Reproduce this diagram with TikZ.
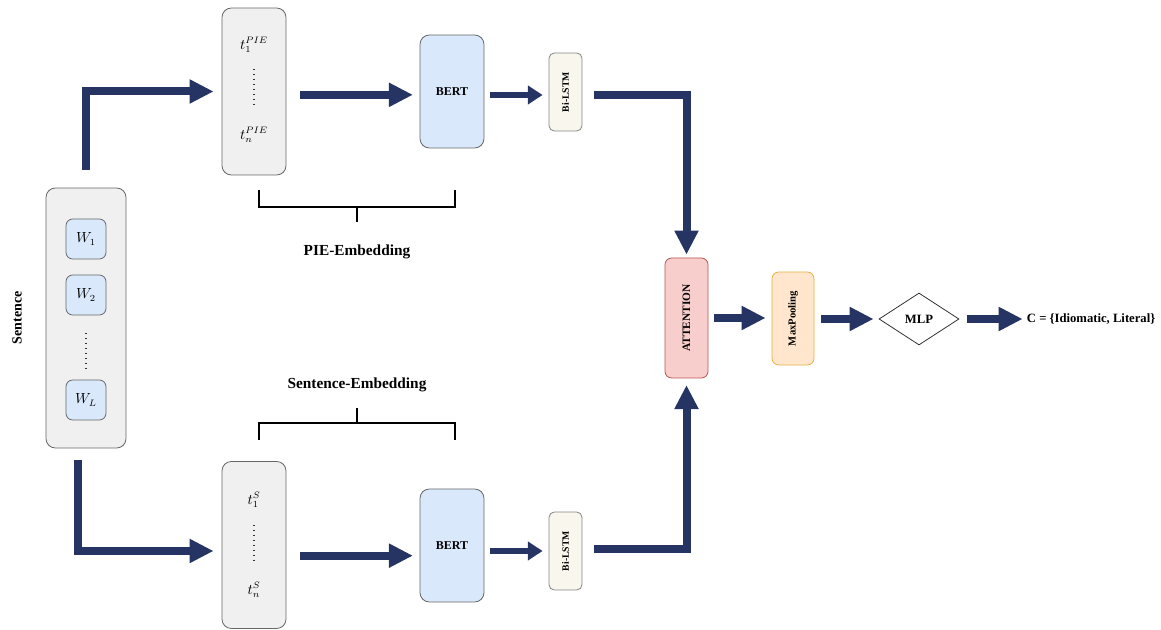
\documentclass[tikz,border=0pt]{standalone}
\usepackage{fontspec}
\setmainfont{Liberation Serif}
\usetikzlibrary{arrows.meta,shapes.geometric}
\definecolor{navy}{RGB}{38,52,100}
\definecolor{boxgray}{HTML}{F0F0F0}
\definecolor{edgegray}{HTML}{666666}
\definecolor{lblue}{HTML}{DAE8FC}
\definecolor{lstmfill}{HTML}{F9F7ED}
\definecolor{attfill}{HTML}{F8CECC}
\definecolor{attedge}{HTML}{B85450}
\definecolor{mpfill}{HTML}{FFE6CC}
\definecolor{mpedge}{HTML}{E6B045}
\tikzset{
  graybox/.style={draw=edgegray, fill=boxgray, rounded corners=7pt, line width=0.6pt, inner sep=0pt},
  wbox/.style={draw=edgegray, fill=lblue, rounded corners=5pt, line width=0.6pt, minimum width=30pt, minimum height=30pt, inner sep=0pt, font=\fontsize{10.5}{12}\selectfont},
  bertbox/.style={draw=edgegray, fill=lblue, rounded corners=7pt, line width=0.6pt, minimum width=48pt, minimum height=84.75pt, inner sep=0pt, font=\bfseries\fontsize{9}{10}\selectfont},
  lstmbox/.style={draw=edgegray!80, fill=lstmfill, rounded corners=4pt, line width=0.6pt, minimum width=24.75pt, minimum height=58.5pt, inner sep=0pt},
  tok/.style={font=\fontsize{10.5}{12}\selectfont, inner sep=0pt},
  bigarrow/.style={draw=navy, line width=6pt, -{Triangle[length=18pt,width=17pt]}},
  smallarrow/.style={draw=navy, line width=4.5pt, -{Triangle[length=11pt,width=13.5pt]}},
  bracket/.style={draw=black, line width=1.2pt},
  lbl/.style={font=\bfseries\fontsize{11.5}{13}\selectfont, inner sep=1pt},
  dots/.style={line width=0.9pt, draw=black!80, dash pattern=on 0.9pt off 2.8pt}
}
\begin{document}
\begin{tikzpicture}[x=0.75pt,y=-0.75pt]
\useasboundingbox (0,0) rectangle (1161,630);
% Sentence column
\node[graybox, minimum width=60pt, minimum height=195pt] (s) at (86,318) {};
\node[wbox] (w1) at (86,239) {$W_1$};
\node[wbox] (w2) at (86,295) {$W_2$};
\node[wbox] (wl) at (86,400) {$W_L$};
\draw[dots] (86,333) -- (86,368);
\node[font=\bfseries\fontsize{10.5}{12}\selectfont, rotate=90] (slabel) at (17,318) {Sentence};
% token boxes
\node[graybox, minimum width=48pt, minimum height=125.25pt] (t1) at (254,91.5) {};
\node[tok] (t1a) at (254,45) {$t_1^{PIE}$};
\node[tok] (t1b) at (254,135) {$t_n^{PIE}$};
\draw[dots] (254,69) -- (254,108);
\node[graybox, minimum width=48pt, minimum height=125.25pt] (t2) at (254,545) {};
\node[tok] (t2a) at (254,500) {$t_1^{S}$};
\node[tok] (t2b) at (254,590) {$t_n^{S}$};
\draw[dots] (254,525) -- (254,564);
% BERT
\node[bertbox] (b1) at (452,91.5) {BERT};
\node[bertbox] (b2) at (452,545.5) {BERT};
% BiLSTM
\node[lstmbox] (l1) at (565.5,92) {};
\node[rotate=90, font=\bfseries\fontsize{7.3}{9}\selectfont] at (l1.center) {Bi-LSTM};
\node[lstmbox] (l2) at (565.5,551) {};
\node[rotate=90, font=\bfseries\fontsize{7.3}{9}\selectfont] at (l2.center) {Bi-LSTM};
% Attention, MaxPooling, MLP, output
\node[draw=attedge, fill=attfill, rounded corners=5pt, line width=0.6pt, minimum width=32.25pt, minimum height=90pt, inner sep=0pt] (att) at (686.5,318) {};
\node[rotate=90, font=\bfseries\fontsize{8.5}{10}\selectfont] at (att.center) {ATTENTION};
\node[draw=mpedge, fill=mpfill, rounded corners=5pt, line width=0.6pt, minimum width=31.5pt, minimum height=69.75pt, inner sep=0pt] (mp) at (793,318.5) {};
\node[rotate=90, font=\bfseries\fontsize{8}{10}\selectfont] at (mp.center) {MaxPooling};
\node[diamond, draw=black!80, line width=0.6pt, minimum width=60pt, minimum height=39pt, inner sep=0pt, font=\bfseries\fontsize{9.5}{11}\selectfont] (mlp) at (919,319) {MLP};
\node[anchor=west, inner sep=2pt, font=\bfseries\fontsize{9.5}{11}\selectfont] (out) at (1024,319) {C = \{Idiomatic, Literal\}};
% brackets
\draw[bracket] (259,190) -- (259,207) -- (455,207) -- (455,190);
\draw[bracket] (357,207) -- (357,222);
\node[lbl] (pie) at (357,252) {PIE-Embedding};
\draw[bracket] (259,440) -- (259,423) -- (455,423) -- (455,440);
\draw[bracket] (357,423) -- (357,408);
\node[lbl] (sen) at (357,385) {Sentence-Embedding};
% arrows
\draw[bigarrow] ([yshift=13.5pt]s.north) |- ([xshift=-6pt]t1.west);
\draw[bigarrow] ([xshift=-6pt,yshift=-9pt]s.south) |- ([xshift=-6pt,yshift=-4.5pt]t2.west);
\draw[bigarrow, shorten <=10.5pt, shorten >=5pt] ([yshift=-2.5pt]t1.east) -- ([yshift=-2.5pt]b1.west);
\draw[bigarrow, shorten <=10.5pt, shorten >=5pt] ([yshift=-8pt]t2.east) -- ([yshift=-8pt]t2.east -| b2.west);
\draw[smallarrow, shorten <=4.5pt, shorten >=4.5pt] ([yshift=-2.25pt]b1.east |- l1.west) -- ([yshift=-2.25pt]l1.west);
\draw[smallarrow, shorten <=4.5pt, shorten >=4.5pt] (b2.east |- l2.west) -- (l2.west);
\draw[bigarrow] ([xshift=9pt,yshift=-2.5pt]l1.east) -| ([yshift=2.25pt]att.north);
\draw[bigarrow] ([xshift=9pt,yshift=1.5pt]l2.east) -| ([yshift=-5pt]att.south);
\draw[bigarrow, shorten <=4.5pt, shorten >=4.5pt] (att.east) -- (att.east -| mp.west);
\draw[bigarrow, shorten <=5.25pt, shorten >=3.75pt] (mp.east |- mlp.west) -- (mlp.west);
\draw[bigarrow, shorten <=6pt, shorten >=1pt] (mlp.east) -- (out.west);
\end{tikzpicture}
\end{document}
